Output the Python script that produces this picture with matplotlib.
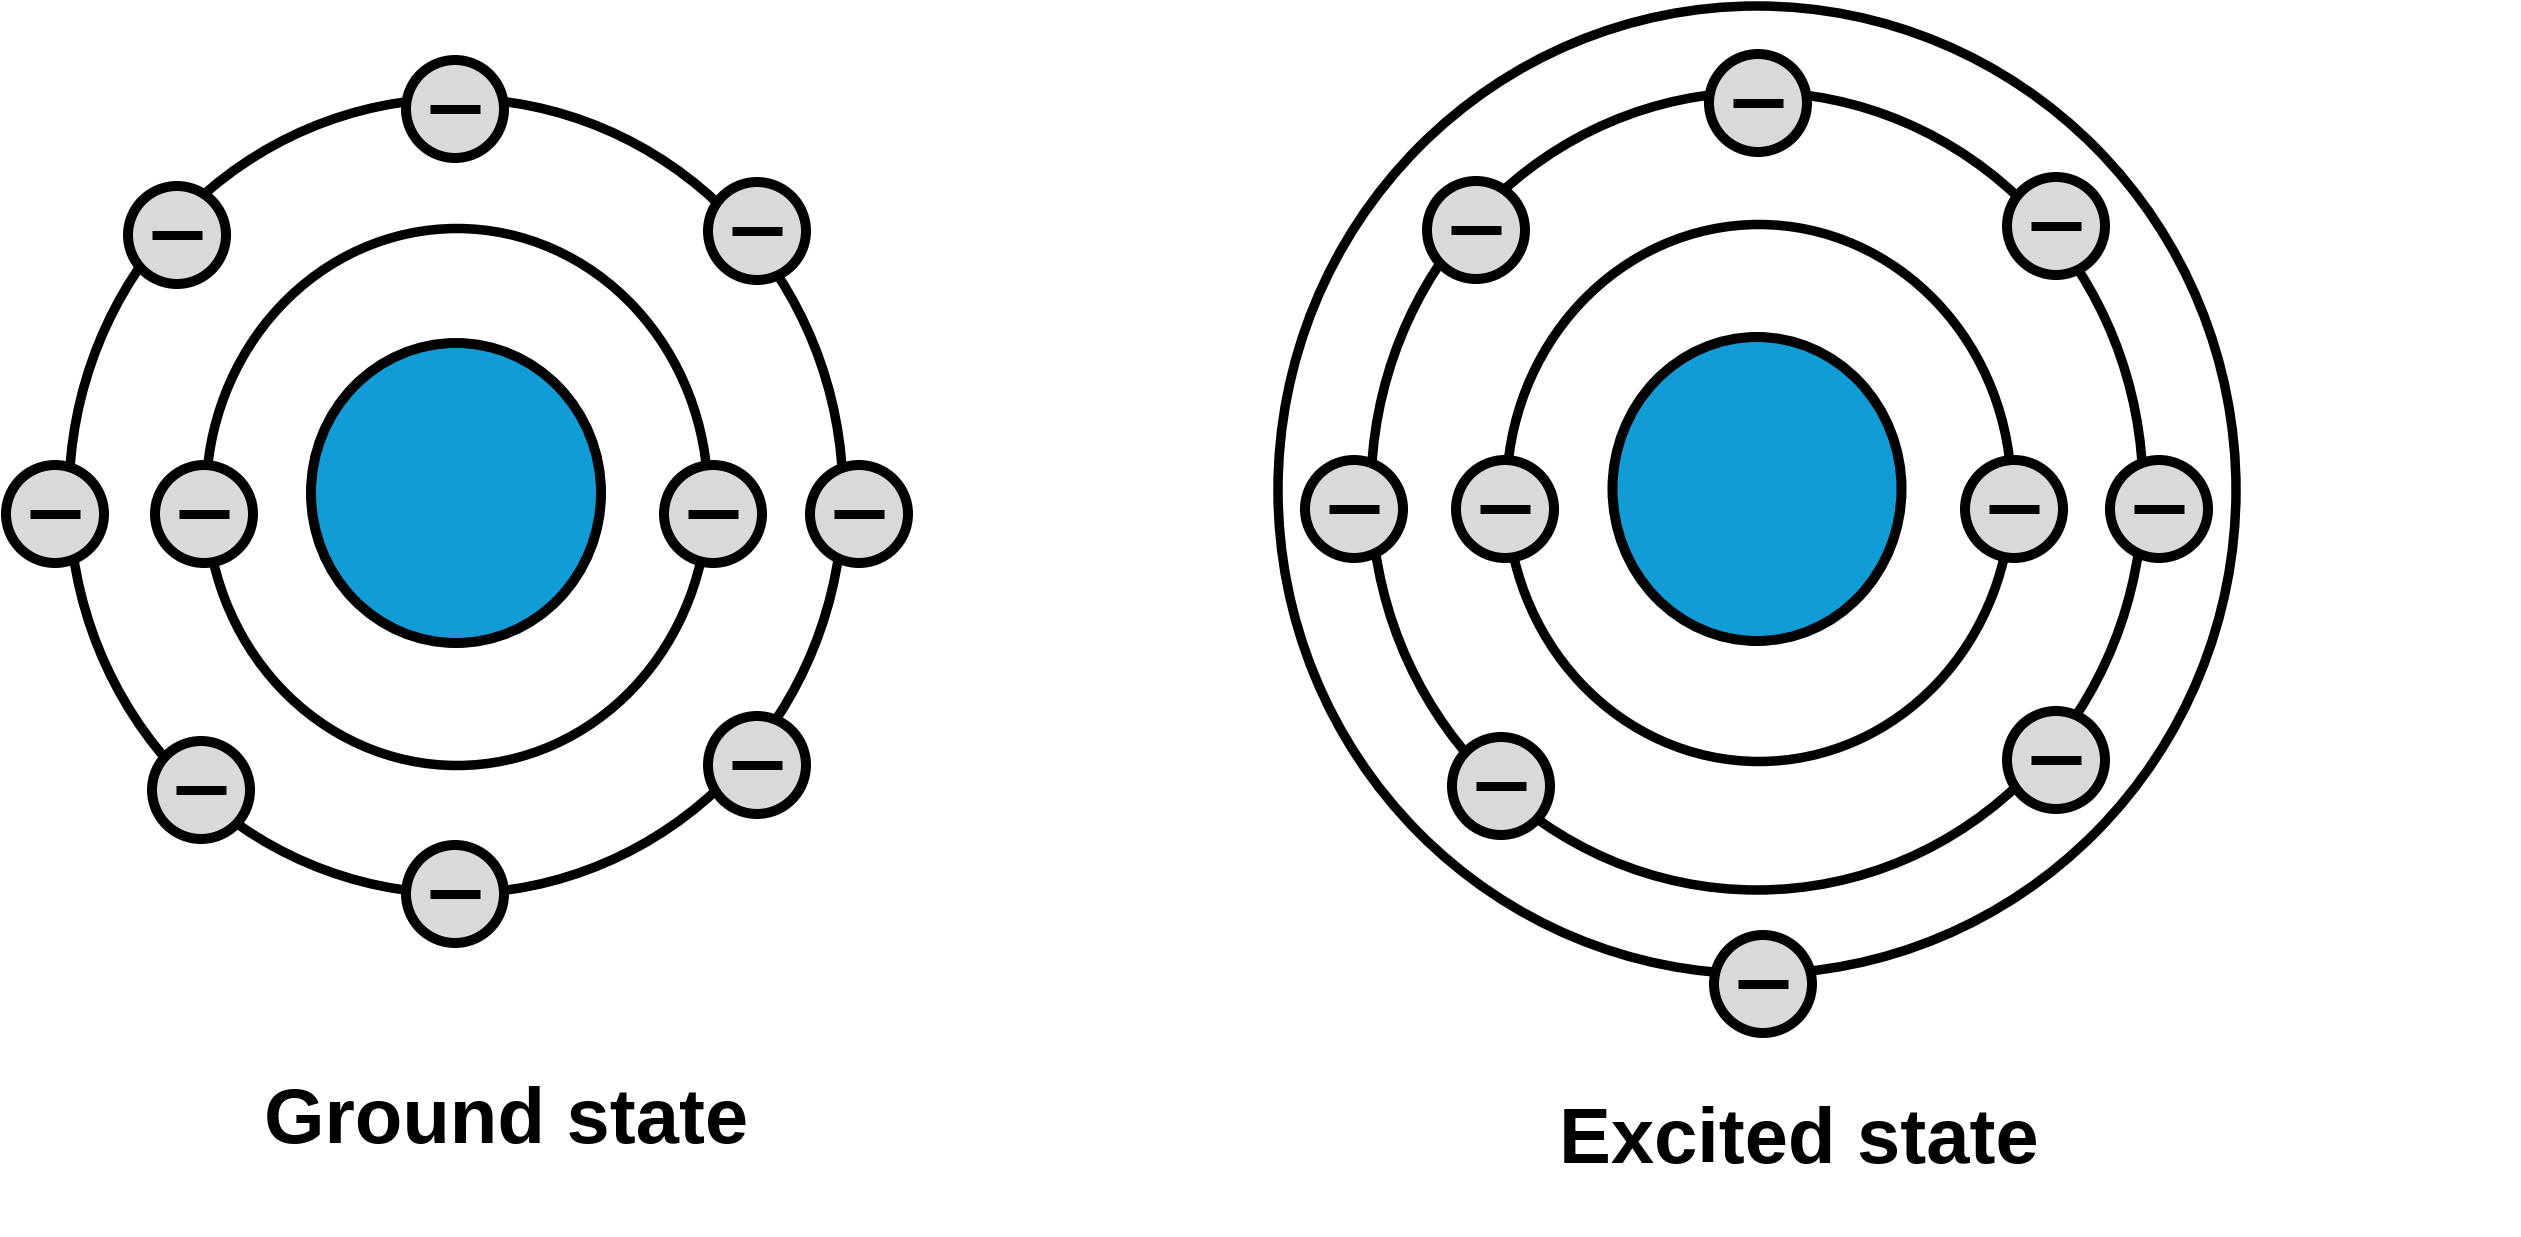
import matplotlib
matplotlib.use("Agg")
import matplotlib.pyplot as plt
from matplotlib.patches import Ellipse, Circle

# pixel coordinates of the 2521x1237 picture (y grows downwards)
W, H = 2521, 1237
DPI = 100

# ground state atom
ground_nucleus = (456, 493, 290, 300)          # cx, cy, width, height
ground_orbits = [(457, 497, 502, 537), (456, 496, 774, 795)]
ground_electrons_x = [455, 177, 757, 55, 204, 713, 859, 201, 757, 455]
ground_electrons_y = [109, 235, 231, 514, 514, 514, 514, 790, 765, 894]
ground_label = (506, 1143, "Ground state")

# excited state atom
excited_nucleus = (1757, 489, 289, 304)
excited_orbits = [(1759, 493, 505, 537), (1757, 491, 772, 798), (1757, 490, 958, 968)]
excited_electrons_x = [1758, 1476, 2056, 1354, 1505, 2014, 2159, 1501, 2056, 1763]
excited_electrons_y = [103, 230, 226, 509, 509, 509, 509, 786, 760, 984]
excited_label = (1799, 1163, "Excited state")

nucleus_color = "#119cd6"
electron_color = "#d9d9d9"
e_radius = 49
minus_half = 25

px = 72.0 / DPI  # points per pixel

fig = plt.figure(figsize=(W / DPI, H / DPI), dpi=DPI)
ax = fig.add_axes([0, 0, 1, 1])
ax.set_xlim(0, W)
ax.set_ylim(H, 0)
ax.axis("off")


def draw_atom(nucleus, orbits, ex, ey, label):
    for cx, cy, w, h in orbits:
        ax.add_patch(Ellipse((cx, cy), w, h, fill=False, ec="black", lw=9.5 * px, zorder=1))
    cx, cy, w, h = nucleus
    ax.add_patch(Ellipse((cx, cy), w, h, fc=nucleus_color, ec="black", lw=10 * px, zorder=2))
    for x, y in zip(ex, ey):
        ax.add_patch(Circle((x, y), e_radius, fc=electron_color, ec="black", lw=10 * px, zorder=3))
        ax.plot([x - minus_half, x + minus_half], [y, y], color="black", lw=9 * px,
                solid_capstyle="butt", zorder=4)
    lx, ly, text = label
    ax.text(lx, ly, text, ha="center", va="baseline", fontsize=56,
            fontweight="bold", family="Liberation Sans", color="black")


draw_atom(ground_nucleus, ground_orbits, ground_electrons_x, ground_electrons_y, ground_label)
draw_atom(excited_nucleus, excited_orbits, excited_electrons_x, excited_electrons_y, excited_label)

fig.savefig("out.png", dpi=DPI, facecolor="white")
